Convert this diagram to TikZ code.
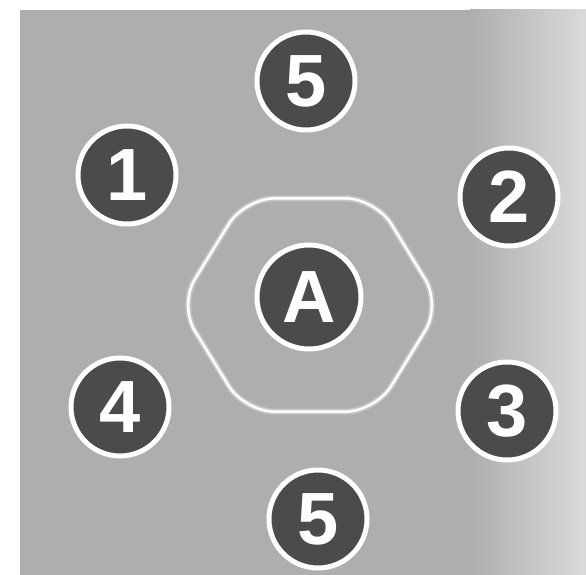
\documentclass[tikz,border=0pt]{standalone}
\usepackage{fontspec}
\setmainfont{Liberation Sans}
\usetikzlibrary{shapes.geometric}
\definecolor{paper}{HTML}{B0AEAC}
\definecolor{disc}{HTML}{4D4A4A}
\tikzset{
  marker/.style={circle, fill=disc, draw=white, line width=5pt, minimum size=98pt, inner sep=0pt, text=white, font=\fontsize{74}{74}\bfseries\selectfont},
  bigmarker/.style={marker, minimum size=104pt},
  seat/.style={regular polygon, regular polygon sides=6, draw=white, line width=2.5pt, rounded corners=30pt, minimum size=262pt, inner sep=0pt, yscale=0.94,
    preaction={draw=white, draw opacity=0.3, line width=6pt}}
}

\begin{document}
\begin{tikzpicture}[x=1pt, y=-1pt]
  \useasboundingbox (0,0) rectangle (586,575);
  \fill[paper] (20,10) rectangle (586,575);
  \shade[left color=paper, right color=paper!45!white] (470,10) rectangle (586,575);

  \node[seat] (hex) at (310,305) {};
  \node[bigmarker] (a) at (309,297) {A};
  \node[marker] (top5) at (306,81) {5};
  \node[marker] (one) at (127,175) {1};
  \node[marker] (two) at (509,197) {2};
  \node[marker] (four) at (120,407) {4};
  \node[marker] (three) at (507,411) {3};
  \node[marker] (bottom5) at (318,519) {5};
\end{tikzpicture}
\end{document}
